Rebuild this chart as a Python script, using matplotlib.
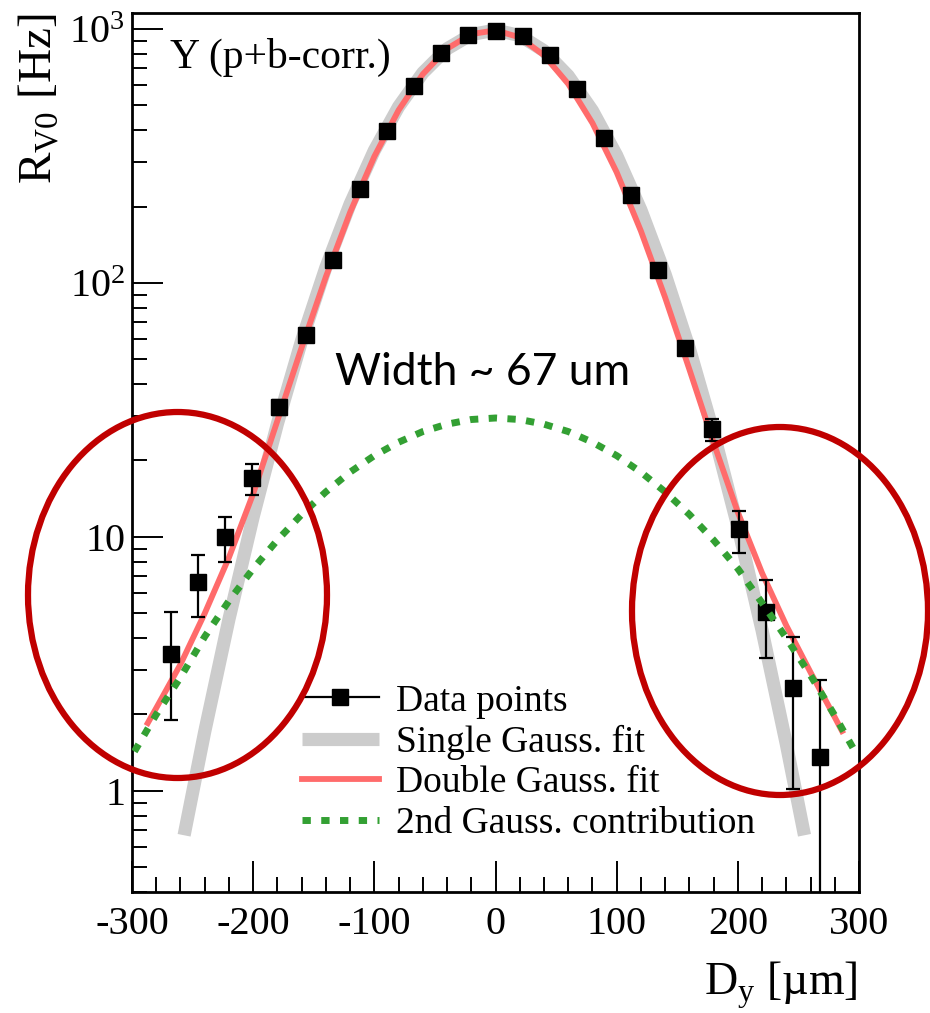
import matplotlib
matplotlib.use('Agg')
import matplotlib.pyplot as plt
from matplotlib.lines import Line2D
from matplotlib.patches import Ellipse
from matplotlib.ticker import FixedLocator, MultipleLocator, NullFormatter

plt.rcParams['font.family'] = ['Liberation Serif', 'DejaVu Serif']
plt.rcParams['mathtext.fontset'] = 'custom'
plt.rcParams['mathtext.rm'] = 'Liberation Serif'

# beam position scan points
scan_x = [-268.2, -245.9, -223.5, -201.2, -178.8, -156.5, -134.1, -111.8, -89.4, -67.1,
          -44.7, -22.4, 0.0, 22.4, 44.7, 67.1, 89.4, 111.8, 134.1, 156.5,
          178.8, 201.2, 223.5, 245.9, 268.2]
rate = [3.47, 6.65, 10.0, 17.0, 32.4, 62.4, 123.0, 235.0, 397.0, 597.0,
        808.0, 947.0, 985.0, 938.0, 788.0, 579.0, 372.0, 222.0, 112.6, 55.4,
        26.5, 10.7, 5.08, 2.54, 1.36]
err_low = [1.90, 4.84, 7.97, 14.6, 30.3, 59.5, 119.0, 230.0, 391.0, 590.0,
           800.0, 939.0, 977.0, 930.0, 780.0, 572.0, 366.0, 217.0, 109.5, 52.8,
           23.8, 8.65, 3.35, 1.02, 0.01]
err_high = [5.07, 8.47, 12.0, 19.4, 34.6, 65.3, 127.0, 240.0, 403.0, 604.0,
            816.0, 955.0, 993.0, 946.0, 796.0, 586.0, 378.0, 227.0, 115.8, 58.0,
            29.2, 12.7, 6.78, 4.05, 2.74]

# single gaussian fit curve
single_x = [-257, -240, -220, -200, -180, -160, -140, -120, -100, -80, -60, -40, -20, 0,
            20, 40, 60, 80, 100, 120, 140, 160, 180, 200, 220, 240, 255]
single_y = [0.669, 1.71, 4.74, 12.0, 27.9, 59.3, 115.1, 204.5, 332.3, 494.0, 671.8, 835.8, 951.0, 990.0,
            942.6, 821.0, 654.1, 476.7, 317.8, 193.8, 108.1, 55.2, 25.7, 11.0, 4.29, 1.53, 0.669]

# double gaussian fit curve
double_x = [-287, -280, -260, -240, -220, -200, -180, -160, -140, -120, -100, -80, -60, -40, -20, 0,
            20, 40, 60, 80, 100, 120, 140, 160, 180, 200, 220, 240, 260, 280, 286]
double_y = [1.85, 2.12, 3.15, 5.0, 8.3, 14.8, 28.7, 55.7, 105.7, 189.6, 314.7, 478.8, 663.8, 836.0, 954.7, 988.3,
            927.0, 788.1, 608.0, 426.2, 272.8, 160.2, 87.6, 45.7, 23.5, 12.5, 7.21, 4.48, 2.93, 1.95, 1.72]

# wide (2nd) gaussian component
second_x = [-298, -280, -260, -240, -220, -200, -180, -160, -140, -120, -100, -80, -60, -40, -20, 0,
            20, 40, 60, 80, 100, 120, 140, 160, 180, 200, 220, 240, 260, 280, 296]
second_y = [1.43, 2.0, 2.8, 4.05, 5.6, 7.5, 9.72, 12.26, 15.05, 18.0, 20.9, 23.6, 26.0, 27.8, 29.0, 29.4,
            29.0, 27.8, 26.0, 23.6, 20.9, 18.0, 15.05, 12.26, 9.72, 7.5, 5.5, 4.0, 2.85, 1.98, 1.45]

x_ticks = [-300, -200, -100, 0, 100, 200, 300]
y_ticks = [1, 10, 100, 1000]
y_tick_labels = ['1', '10', r'$\mathregular{10^{2}}$', r'$\mathregular{10^{3}}$']

W, H = 930, 1013
fig = plt.figure(figsize=(W / 100, H / 100), dpi=100)
ax = fig.add_axes([132 / W, 1 - 892 / H, 727 / W, 879 / H])

gray, = ax.plot(single_x, single_y, color='#cccccc', lw=9.5, solid_capstyle='butt', zorder=1)
red, = ax.plot(double_x, double_y, color='#ff6b6b', lw=4.2, zorder=2)
yerr = [[r - lo for r, lo in zip(rate, err_low)], [hi - r for r, hi in zip(rate, err_high)]]
ax.errorbar(scan_x, rate, yerr=yerr, fmt='s', color='black', ms=12, capsize=5,
            elinewidth=1.6, capthick=1.6, zorder=3)
green, = ax.plot(second_x, second_y, color='#33a033', lw=5, dashes=(1.2, 1.5), zorder=4)

ax.set_yscale('log')
ax.set_xlim(-300, 300)
ax.set_ylim(0.40, 1156)
ax.xaxis.set_major_locator(FixedLocator(x_ticks))
ax.xaxis.set_minor_locator(MultipleLocator(20))
ax.set_xticklabels([str(v) for v in x_ticks])
ax.yaxis.set_major_locator(FixedLocator(y_ticks))
ax.yaxis.set_minor_locator(FixedLocator([m * 10.0 ** e for e in range(-1, 4) for m in range(2, 10)]))
ax.yaxis.set_minor_formatter(NullFormatter())
ax.set_yticklabels(y_tick_labels)
ax.tick_params(which='both', direction='in', top=False, right=False, width=1.4, labelsize=29)
ax.tick_params(which='major', length=22)
ax.tick_params(which='minor', length=11)
ax.tick_params(axis='x', pad=10)
ax.tick_params(axis='y', pad=5)
for s in ax.spines.values():
    s.set_linewidth(2)

data_handle = Line2D([], [], color='black', lw=1.6, marker='s', ms=12)
ax.legend([data_handle, gray, red, green],
          ['Data points', 'Single Gauss. fit', 'Double Gauss. fit', '2nd Gauss. contribution'],
          loc='upper left', bbox_to_anchor=(302 / W, 1 - 684 / H), bbox_transform=fig.transFigure,
          frameon=False, fontsize=27, handlelength=2.05, handletextpad=0.45,
          labelspacing=0.16, borderpad=0, borderaxespad=0)

fig.text(857 / W, 1 - 994 / H, r'D$_{\mathregular{y}}$ [µm]', fontsize=33, ha='right', va='baseline')
fig.text(39 / W, 1 - 13 / H, r'R$_{\mathregular{V0}}$ [Hz]', fontsize=34, rotation=90, ha='center', va='top')
fig.text(170 / W, 1 - 68 / H, 'Y (p+b-corr.)', fontsize=30, va='baseline')
fig.text(335 / W, 1 - 385 / H, 'Width ~ 67 um', fontsize=32, family='Lato', va='baseline')

# red annotation ellipses
for cx, cy, ew, eh in [(177.5, 595, 299, 366), (780, 611, 296, 368)]:
    fig.add_artist(Ellipse((cx / W, 1 - cy / H), ew / W, eh / H, transform=fig.transFigure,
                           fill=False, ec='#c00000', lw=4.5, zorder=10))

fig.savefig('out.png', dpi=100)
